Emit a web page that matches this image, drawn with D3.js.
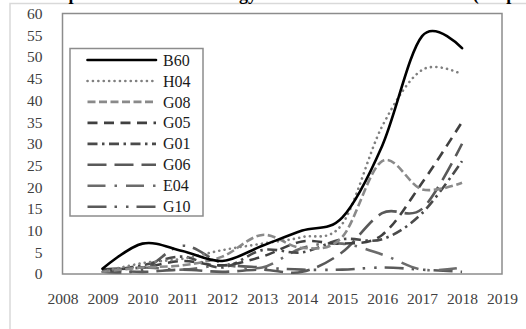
<!DOCTYPE html>
<html>
<head>
<meta charset="utf-8">
<script src="https://cdn.jsdelivr.net/npm/d3@7"></script>
<style>
  html, body { margin: 0; padding: 0; background: #fff; }
  svg { display: block; }
</style>
</head>
<body>
<svg id="chart" width="526" height="329"></svg>
<script>
// ---------- data ----------
const years = [2009, 2010, 2011, 2012, 2013, 2014, 2015, 2016, 2017, 2018];
const seriesNames = ["B60", "H04", "G08", "G05", "G01", "G06", "E04", "G10"];
const B60 = [1.2, 7, 5.3, 3, 6.5, 10, 13, 29.5, 54.8, 52];
const H04 = [0.5, 2.5, 3.5, 5.5, 7, 8.5, 11.5, 34, 47, 46];
const G08 = [0.5, 1.5, 2, 4, 9, 6, 8.5, 26, 19.5, 21];
const G05 = [1, 1.5, 3, 2, 4, 7.5, 7, 9, 21, 35];
const G01 = [0.5, 2, 4, 1.5, 5.5, 5, 8, 8, 14, 26];
const G06 = [1, 0.5, 1, 0.5, 1, 0.5, 5, 14, 15, 30];
const E04 = [1, 1.5, 1, 2, 1.5, 6, 7, 4.5, 1, 1.5];
const G10 = [0.5, 1, 6.5, 2.5, 1.5, 1, 1, 1.5, 1, 0.5];
const xTickLabels = [2008, 2009, 2010, 2011, 2012, 2013, 2014, 2015, 2016, 2017, 2018, 2019];
const yTickLabels = [0, 5, 10, 15, 20, 25, 30, 35, 40, 45, 50, 55, 60];
const titleMain = "The Top Ten Patent Technology Classes from 2009 to 2018";
const titleTail = "(All patents)";

const valuesByName = { B60, H04, G08, G05, G01, G06, E04, G10 };

// ---------- styles ----------
const styles = {
  B60: { color: "#000000", dash: null, cap: "round" },
  H04: { color: "#808080", dash: "0.1 5.3", cap: "round" },
  G08: { color: "#8a8a8a", dash: "8 3.5", cap: "butt" },
  G05: { color: "#404040", dash: "10 6.5", cap: "butt" },
  G01: { color: "#4a4a4a", dash: "10 4.5 2.5 4.5", cap: "butt" },
  G06: { color: "#595959", dash: "19 8", cap: "butt" },
  E04: { color: "#6b6b6b", dash: "18 9 2.5 9", cap: "butt" },
  G10: { color: "#5a5a5a", dash: "19 8 2.5 9 2.5 8", cap: "butt" }
};

const svg = d3.select("#chart");
const W = 526, H = 329;
const fontSerif = "'Liberation Serif', 'Times New Roman', 'DejaVu Serif', serif";

// outer chart-area border (light gray)
svg.append("rect")
  .attr("x", 10).attr("y", 3.5)
  .attr("width", W + 20).attr("height", H + 20)
  .attr("fill", "none").attr("stroke", "#d9d9d9").attr("stroke-width", 1.5);

// title (mostly cropped off at the top, as in the reference)
const title = svg.append("text")
  .attr("x", 15).attr("y", 0)
  .attr("font-family", fontSerif)
  .attr("font-weight", "bold")
  .attr("font-size", 18)
  .attr("fill", "#000");
title.append("tspan").text(titleMain);
title.append("tspan").attr("dx", 8).text(" " + titleTail);

// scales
const x = d3.scaleLinear().domain([2008, 2019]).range([62.5, 502]);
const y = d3.scaleLinear().domain([0, 60]).range([274, 13.5]);

// plot area frame
svg.append("rect")
  .attr("x", x(2008)).attr("y", y(60))
  .attr("width", x(2019) - x(2008)).attr("height", y(0) - y(60))
  .attr("fill", "none").attr("stroke", "#8c8c8c").attr("stroke-width", 1.5);

// y axis labels
const yAxis = d3.axisLeft(y).tickValues(yTickLabels).tickSize(0).tickPadding(20)
  .tickFormat(d3.format("d"));
const gy = svg.append("g").attr("transform", `translate(${x(2008)},0)`).call(yAxis);
gy.select(".domain").remove();
gy.selectAll("text")
  .attr("font-family", fontSerif).attr("font-size", 15.5).attr("fill", "#404040");

// x axis labels
const xAxis = d3.axisBottom(x).tickValues(xTickLabels).tickSize(0).tickPadding(19)
  .tickFormat(d3.format("d"));
const gx = svg.append("g").attr("transform", `translate(0,${y(0)})`).call(xAxis);
gx.select(".domain").remove();
gx.selectAll("text")
  .attr("font-family", fontSerif).attr("font-size", 15.5).attr("fill", "#404040");

// lines
const line = d3.line()
  .x(d => x(d.year))
  .y(d => y(d.value))
  .curve(d3.curveCatmullRom.alpha(0));

const drawOrder = seriesNames.slice().reverse();
drawOrder.forEach(name => {
  const vals = valuesByName[name];
  const pts = years.map((yr, i) => ({ year: yr, value: vals[i] }));
  const st = styles[name];
  svg.append("path")
    .datum(pts)
    .attr("d", line)
    .attr("fill", "none")
    .attr("stroke", st.color)
    .attr("stroke-width", 2.6)
    .attr("stroke-linecap", st.cap)
    .attr("stroke-linejoin", "round")
    .attr("stroke-dasharray", st.dash);
});

// legend
const legend = svg.append("g");
const lgX = 70, lgY = 48.5, lgW = 133, lgH = 167.5;
legend.append("rect")
  .attr("x", lgX).attr("y", lgY).attr("width", lgW).attr("height", lgH)
  .attr("fill", "#fff").attr("stroke", "#8c8c8c").attr("stroke-width", 1.5);

const rowY = d3.scalePoint().domain(seriesNames).range([60, 206.7]);
seriesNames.forEach(name => {
  const st = styles[name];
  const ry = rowY(name);
  legend.append("line")
    .attr("x1", 87.5).attr("x2", 156).attr("y1", ry).attr("y2", ry)
    .attr("stroke", st.color).attr("stroke-width", 2.6)
    .attr("stroke-linecap", st.cap)
    .attr("stroke-dasharray", st.dash);
  legend.append("text")
    .attr("x", 163).attr("y", ry).attr("dy", "0.35em")
    .attr("font-family", fontSerif).attr("font-size", 16).attr("fill", "#1a1a1a")
    .text(name);
});
</script>
</body>
</html>
